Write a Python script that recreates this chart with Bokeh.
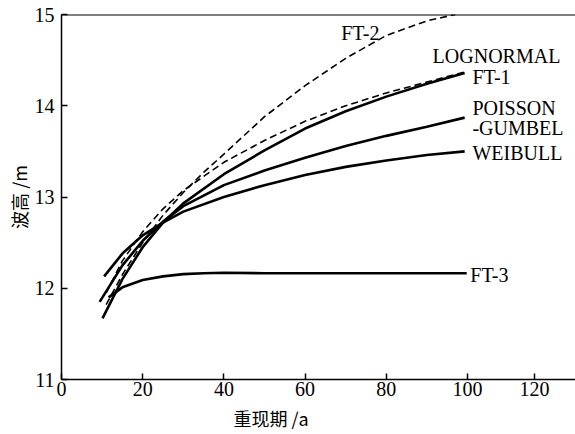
from bokeh.plotting import figure
from bokeh.models import ColumnDataSource, Span, Title, FixedTicker
from bokeh.core.properties import value
from bokeh.embed import file_html
from bokeh.resources import INLINE

# ---- data ----
ft3_x = [11.6, 15, 20, 25, 30, 35, 40, 50, 60, 70, 80, 90, 99.8]
ft3_y = [11.90, 12.01, 12.09, 12.13, 12.155, 12.165, 12.17, 12.165, 12.165, 12.165, 12.165, 12.165, 12.165]

weib_x = [10.5, 15, 20, 25, 30, 40, 50, 60, 70, 80, 90, 99.3]
weib_y = [12.13, 12.38, 12.58, 12.72, 12.84, 13.00, 13.13, 13.24, 13.33, 13.40, 13.46, 13.50]

pg_x = [9.4, 15, 20, 25, 30, 40, 50, 60, 70, 80, 90, 99.3]
pg_y = [11.85, 12.25, 12.52, 12.73, 12.90, 13.13, 13.29, 13.43, 13.56, 13.67, 13.77, 13.87]

ft1_x = [10.1, 15, 20, 25, 30, 40, 50, 60, 70, 80, 90, 99.3]
ft1_y = [11.67, 12.10, 12.45, 12.72, 12.93, 13.25, 13.51, 13.75, 13.94, 14.10, 14.24, 14.36]

logn_x = [11, 15, 20, 25, 30, 40, 50, 60, 70, 80, 90, 99.3]
logn_y = [11.95, 12.30, 12.62, 12.87, 13.07, 13.38, 13.62, 13.83, 14.00, 14.14, 14.26, 14.37]

ft2_x = [11, 15, 20, 25, 30, 35, 40, 50, 60, 70, 80, 90, 97]
ft2_y = [11.82, 12.15, 12.50, 12.80, 13.05, 13.27, 13.47, 13.88, 14.22, 14.52, 14.77, 14.93, 15.00]

label_text = ["FT-2", "LOGNORMAL", "FT-1", "POISSON", "-GUMBEL", "WEIBULL", "FT-3"]
label_x = [68.9, 91.4, 101.2, 101.2, 101.2, 101.2, 100.7]
label_y = [14.80, 14.55, 14.31, 13.98, 13.76, 13.48, 12.15]

x_ticks = [0, 20, 40, 60, 80, 100, 116.5]
x_tick_labels = ["0", "20", "40", "60", "80", "100", "120"]
y_ticks = [11, 12, 13, 14, 15]

x_title = "重现期 /a"
y_title = "波高 /m"

SERIF = "Liberation Serif"
CJK = "Noto Sans CJK SC"

p = figure(width=575, height=434, x_range=(0, 126.6), y_range=(11, 15),
           output_backend="svg", toolbar_location=None,
           min_border_left=61, min_border_right=0, min_border_top=14, min_border_bottom=55)
p.background_fill_color = "white"
p.border_fill_color = "white"
p.outline_line_color = None
p.grid.visible = False

for ax in (p.xaxis[0], p.yaxis[0]):
    ax.axis_line_width = 1.5
    ax.axis_line_color = "black"
    ax.major_tick_in = 6
    ax.major_tick_out = 0
    ax.major_tick_line_width = 1.5
    ax.minor_tick_line_color = None
    ax.major_label_text_font = SERIF
    ax.major_label_text_font_size = "20px"
    ax.major_label_text_color = "black"

p.xaxis[0].ticker = FixedTicker(ticks=x_ticks)
p.xaxis[0].major_label_overrides = {t: l for t, l in zip(x_ticks, x_tick_labels)}
p.xaxis[0].major_label_standoff = 2
p.yaxis[0].ticker = FixedTicker(ticks=y_ticks)
p.yaxis[0].major_label_standoff = 7
p.yaxis[0].axis_label = y_title
p.yaxis[0].axis_label_text_font = CJK
p.yaxis[0].axis_label_text_font_size = "18px"
p.yaxis[0].axis_label_text_font_style = "normal"
p.yaxis[0].axis_label_text_color = "black"
p.yaxis[0].axis_label_standoff = 0

p.add_layout(Span(location=15, dimension="width", line_color="black", line_width=2))

solid = dict(line_color="black", line_width=2.6)
dashed = dict(line_color="black", line_width=1.6, line_dash="7 4")
p.line(ft3_x, ft3_y, **solid)
p.line(weib_x, weib_y, **solid)
p.line(pg_x, pg_y, **solid)
p.line(ft1_x, ft1_y, **solid)
p.line(logn_x, logn_y, **dashed)
p.line(ft2_x, ft2_y, **dashed)

src = ColumnDataSource(dict(x=label_x, y=label_y, t=label_text))
p.text(x="x", y="y", text="t", source=src, text_font=value(SERIF),
       text_font_size="20px", text_baseline="middle", text_align="left", text_color="black")

p.add_layout(Title(text=x_title, align="left", offset=172, standoff=8,
                   text_font=CJK, text_font_size="18px", text_font_style="normal",
                   text_color="black"), "below")

open("out.html", "w").write(file_html(p, INLINE))
